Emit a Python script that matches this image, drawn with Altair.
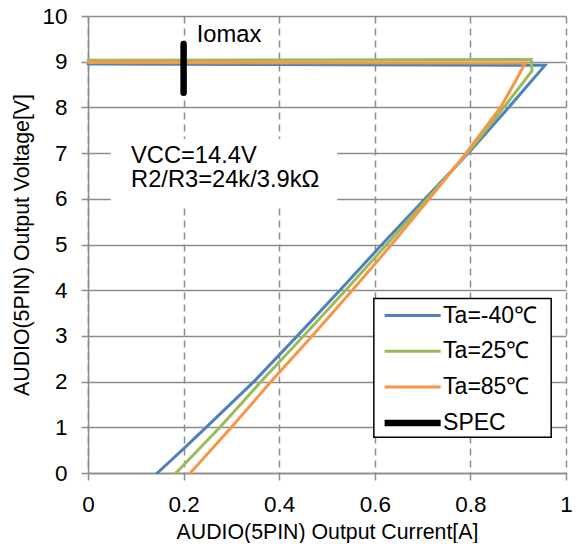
import altair as alt
import pandas as pd

# ---- data ----
series_names = ["Ta=-40℃", "Ta=25℃", "Ta=85℃", "SPEC"]
series_colors = ["#4F81BD", "#9BBB59", "#F79646", "#000000"]
series_widths = [3, 3, 3, 6.5]

blue_x = [0.145, 0.197, 0.247, 0.347, 0.438, 0.527, 0.615, 0.705, 0.796, 0.880, 0.956, 0.0]
blue_y = [0.0, 0.5, 1.0, 2.0, 3.0, 4.0, 5.0, 6.0, 7.0, 8.0, 8.92, 8.95]

green_x = [0.184, 0.276, 0.362, 0.451, 0.539, 0.625, 0.710, 0.794, 0.870, 0.929, 0.927, 0.0]
green_y = [0.0, 1.0, 2.0, 3.0, 4.0, 5.0, 6.0, 7.0, 8.0, 8.80, 9.05, 9.03]

orange_x = [0.214, 0.300, 0.383, 0.469, 0.553, 0.635, 0.714, 0.791, 0.863, 0.891, 0.915, 0.0]
orange_y = [0.0, 1.0, 2.0, 3.0, 4.0, 5.0, 6.0, 7.0, 8.0, 8.51, 8.97, 8.98]

spec_x = [0.2, 0.2]
spec_y = [8.32, 9.39]

x_ticks = [0, 0.2, 0.4, 0.6, 0.8, 1]
y_ticks = [0, 1, 2, 3, 4, 5, 6, 7, 8, 9, 10]

note_x = [0.2275, 0.090, 0.090]
note_y = [9.44, 6.78, 6.25]
note_text = ["Iomax", "VCC=14.4V", "R2/R3=24k/3.9kΩ"]

# white backgrounds: note box, legend box (data units)
box_x = [0.049, 0.598]
box_x2 = [0.52, 0.969]
box_y = [5.84, 0.78]
box_y2 = [7.29, 3.82]
box_stroke = ["white", "black"]

FONT = "Liberation Sans"

rows = []
for name, w, xs, ys in zip(series_names, series_widths,
                           [blue_x, green_x, orange_x, spec_x],
                           [blue_y, green_y, orange_y, spec_y]):
    for i, (xv, yv) in enumerate(zip(xs, ys)):
        rows.append({"series": name, "x": xv, "y": yv, "i": i, "w": w})
df = pd.DataFrame(rows)

notes = pd.DataFrame({"x": note_x, "y": note_y, "text": note_text})
boxes = pd.DataFrame({"x": box_x, "x2": box_x2, "y": box_y, "y2": box_y2, "s": box_stroke})

xscale = alt.Scale(domain=[0, 1], nice=False, zero=False)
yscale = alt.Scale(domain=[0, 10], nice=False, zero=False)

xaxis = alt.Axis(values=x_ticks, format="~r", title="AUDIO(5PIN) Output Current[A]",
                 gridDash=[7, 5], grid=True)
yaxis = alt.Axis(values=y_ticks, format="~r", title="AUDIO(5PIN) Output Voltage[V]",
                 grid=True)

X = alt.X("x:Q", scale=xscale, axis=xaxis)
Y = alt.Y("y:Q", scale=yscale, axis=yaxis)

rects = alt.Chart(boxes).mark_rect(fill="white", strokeWidth=1.5).encode(
    x=X, x2="x2:Q", y=Y, y2="y2:Q",
    stroke=alt.Stroke("s:N", scale=None),
)

legend = alt.Legend(
    title=None, orient="none", legendX=296.6, legendY=282,
    symbolType="M-1.54,0H1.54", symbolSize=3350, clipHeight=35, rowPadding=0.8,
    padding=0, labelOffset=35.5,
    symbolStrokeWidth=alt.ExprRef(expr="datum.value === 'SPEC' ? 6.5 : 3"),
)

lines = alt.Chart(df).mark_line(strokeCap="round", strokeJoin="miter").encode(
    x=X,
    y=Y,
    order="i:Q",
    color=alt.Color("series:N", scale=alt.Scale(domain=series_names, range=series_colors),
                    legend=legend, sort=series_names),
    strokeWidth=alt.StrokeWidth("w:Q", scale=None),
)

texts = alt.Chart(notes).mark_text(align="left", baseline="alphabetic", fontSize=23.7,
                                   font=FONT, color="black").encode(
    x=X, y=Y, text="text:N",
)

chart = alt.layer(rects, lines, texts).properties(
    width=478, height=457,
    autosize=alt.AutoSizeParams(type="none"),
    padding={"left": 80, "top": 8, "right": 6, "bottom": 70},
).configure_view(stroke=None).configure_axis(
    labelFont=FONT, titleFont=FONT, labelFontSize=22.5, titleFontSize=21.3,
    labelColor="black", titleColor="black", titleFontWeight="normal",
    gridColor="#8c8c8c", gridWidth=1.5, gridOpacity=1,
    domainColor="#8c8c8c", domainWidth=1.5, tickColor="#8c8c8c", tickWidth=1.5,
    tickSize=7,
).configure_axisX(labelPadding=13, titlePadding=6, labelFlush=False).configure_axisY(
    labelPadding=14, titlePadding=9,
).configure_legend(
    labelFont=FONT, labelFontSize=23, labelColor="black",
)

chart.save("out.html", embed_options={"renderer": "svg", "actions": False})
